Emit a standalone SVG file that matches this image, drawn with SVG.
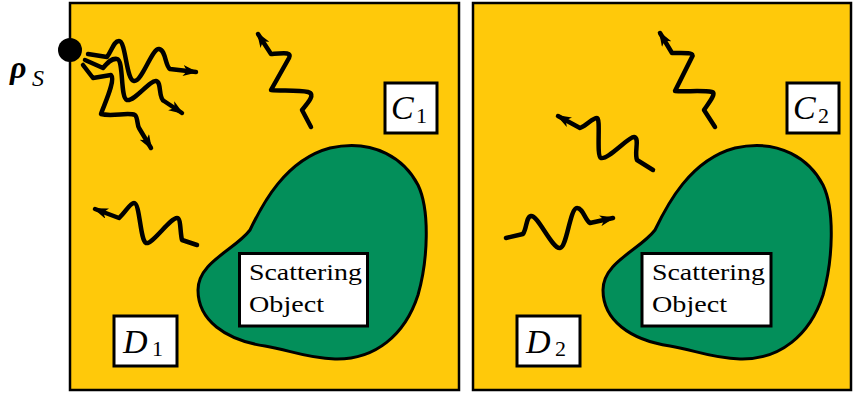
<svg xmlns="http://www.w3.org/2000/svg" width="853" height="394" viewBox="0 0 853 394">
<defs>
<marker id="ah" viewBox="0 0 15 11" refX="13" refY="5.5" markerWidth="15" markerHeight="11" markerUnits="userSpaceOnUse" orient="auto">
<path d="M0,0 L15,5.5 L0,11 L4,5.5 Z" fill="#000"/>
</marker>
<style>
.panel{fill:#FFC90A;stroke:#000;stroke-width:2.5}
.blob{fill:#038F5A;stroke:#000;stroke-width:3}
.wave{fill:none;stroke:#000;stroke-width:4.5;stroke-linecap:round;stroke-linejoin:round;marker-end:url(#ah)}
.box{fill:#fff;stroke:#000;stroke-width:3}
text{font-family:"Liberation Serif","DejaVu Serif",serif;fill:#000}
.it{font-style:italic}
</style>
</defs>
<g id="panel1"><rect class="panel" x="70" y="3" width="389" height="387"/></g>
<g id="panel2"><rect class="panel" x="473" y="3" width="378" height="387"/></g>
<g id="object1">
<path class="blob" d="M 250,230 C 262,205 285,160 330,148 C 375,138 405,160 418,185 C 430,210 428,260 418,295 C 405,335 375,360 335,359 C 305,358 290,350 265,346 C 225,340 198,320 198,290 C 198,262 235,250 250,230 Z"/>
<rect class="box" x="239.5" y="253.5" width="128" height="72.5"/>
<text x="249" y="280" font-size="24" textLength="113" lengthAdjust="spacingAndGlyphs">Scattering</text>
<text x="249" y="311.5" font-size="24" textLength="75" lengthAdjust="spacingAndGlyphs">Object</text>
</g>
<g id="object2">
<path class="blob" transform="translate(405,0)" d="M 250,230 C 262,205 285,160 330,148 C 375,138 405,160 418,185 C 430,210 428,260 418,295 C 405,335 375,360 335,359 C 305,358 290,350 265,346 C 225,340 198,320 198,290 C 198,262 235,250 250,230 Z"/>
<rect class="box" x="642" y="253.5" width="129" height="72.5"/>
<text x="652" y="280" font-size="24" textLength="113" lengthAdjust="spacingAndGlyphs">Scattering</text>
<text x="652" y="311.5" font-size="24" textLength="75" lengthAdjust="spacingAndGlyphs">Object</text>
</g>
<g id="C1"><rect class="box" x="385" y="83" width="52" height="50"/><text class="it" font-size="34" x="391" y="119">C</text><text font-size="22" x="416" y="123">1</text></g>
<g id="C2"><rect class="box" x="787" y="83" width="52" height="50"/><text class="it" font-size="34" x="793" y="119">C</text><text font-size="22" x="818" y="123">2</text></g>
<g id="D1"><rect class="box" x="114" y="316" width="63" height="50"/><text class="it" font-size="34" x="123" y="353">D</text><text font-size="22" x="152" y="356">1</text></g>
<g id="D2"><rect class="box" x="517" y="316" width="63" height="50"/><text class="it" font-size="34" x="526" y="353">D</text><text font-size="22" x="555" y="356">2</text></g>
<g id="source">
<circle cx="70" cy="50" r="12" fill="#000"/>
<text class="it" x="10" y="78" font-size="32" font-weight="bold">ρ</text>
<text class="it" x="32" y="86" font-size="24">S</text>
</g>
<g id="connectors">
<path class="wave" d="M 88,54 L 107,57 C 112,50 114,41 119,41 C 126,41 126,80 134,81 C 142,82 152,48 159,49 C 166,50 165,66 170,69 L 196,72"/>
<path class="wave" d="M 85,60 L 103,68 C 108,62 112,58 117,59 C 124,60 120,98 127,100 C 134,102 150,80 156,81 C 162,82 158,98 164,101 L 182,113"/>
<path class="wave" d="M 83,65 L 93,78 L 111,75 C 116,80 104,105 101,114 C 112,117 128,112 135,115 C 138,118 137,125 139,128 L 151,148"/>
<path class="wave" d="M 311,127 L 302,110 C 308,103 316,94 308,92 C 298,90 280,91 271,90 L 289,58 C 292,52 285,53 271,54 L 258,34"/>
<path class="wave" d="M 197,245 L 182,240 C 180,232 181,218 177,218 C 170,218 152,245 146,243 C 140,240 140,203 134,203 C 130,203 125,213 119,218 L 95,209"/>
<path class="wave" d="M 715,127 L 704,110 C 708,104 717,93 712,92 C 702,90 685,92 675,91 L 692,57 C 695,52 685,53 672,53 L 660,33"/>
<path class="wave" d="M 653,170 L 637,160 C 634,152 640,138 634,137 C 628,137 608,160 601,158 C 596,156 601,118 597,118 C 592,118 588,125 580,128 L 558,116"/>
<path class="wave" d="M 506,238 L 523,234 C 527,228 526,217 531,216 C 538,215 552,249 560,248 C 567,247 570,208 577,208 C 583,208 585,220 590,223 L 613,218"/>
</g>
</svg>
